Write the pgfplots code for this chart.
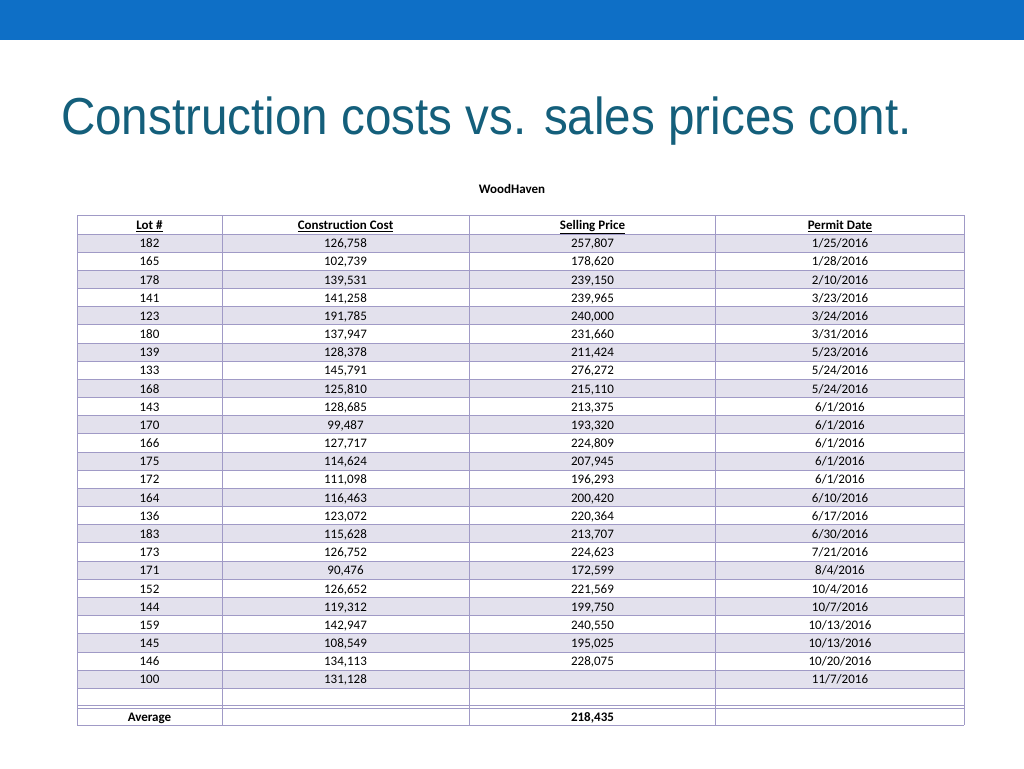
\documentclass[border=0pt]{standalone}
\usepackage{pgfplots}
\pgfplotsset{compat=1.18}
\usepackage{pgfplotstable}
\usepackage{fontspec}
\setmainfont{Carlito}[Ligatures=NoCommon]
\newfontfamily\titlefont{Liberation Sans}
\definecolor{topblue}{HTML}{0E6FC6}
\definecolor{titleteal}{HTML}{145F7B}
\definecolor{stripe}{HTML}{E3E1ED}
\definecolor{gridc}{HTML}{A09AC6}

\pgfplotstableread{
lot cost price date
182 126,758 257,807 1/25/2016
165 102,739 178,620 1/28/2016
178 139,531 239,150 2/10/2016
141 141,258 239,965 3/23/2016
123 191,785 240,000 3/24/2016
180 137,947 231,660 3/31/2016
139 128,378 211,424 5/23/2016
133 145,791 276,272 5/24/2016
168 125,810 215,110 5/24/2016
143 128,685 213,375 6/1/2016
170 99,487 193,320 6/1/2016
166 127,717 224,809 6/1/2016
175 114,624 207,945 6/1/2016
172 111,098 196,293 6/1/2016
164 116,463 200,420 6/10/2016
136 123,072 220,364 6/17/2016
183 115,628 213,707 6/30/2016
173 126,752 224,623 7/21/2016
171 90,476 172,599 8/4/2016
152 126,652 221,569 10/4/2016
144 119,312 199,750 10/7/2016
159 142,947 240,550 10/13/2016
145 108,549 195,025 10/13/2016
146 134,113 228,075 10/20/2016
100 131,128 {} 11/7/2016
}\woodhaven

\newcommand{\cellfont}{\fontsize{13}{15}\selectfont}

\begin{document}
\begin{tikzpicture}
% background decoration in pixel units (y downwards)
\begin{scope}[x=1pt, y=-1pt, yshift=768pt]
  \fill[white] (0,0) rectangle (1024,768);
  \fill[topblue] (0,0) rectangle (1024,40.5);
  \foreach \i in {1,3,...,25} {
    \fill[stripe] (77,{234+18.17*(\i-1)}) rectangle (964,{234+18.17*\i});
  }
  \begin{scope}[draw=gridc, line width=0.8pt]
    \draw (77,215.5) -- (964,215.5);
    \draw (77,234) -- (964,234);
    \foreach \k in {1,...,25} {
      \draw (77,{234+18.17*\k}) -- (964,{234+18.17*\k});
    }
    \draw (77,705.3) -- (964,705.3);
    \draw (77,708.3) -- (964,708.3);
    \draw (77,725.3) -- (964,725.3);
    \foreach \xx in {77,222.3,469,715.7,964} {
      \draw (\xx,215.5) -- (\xx,725.3);
    }
  \end{scope}
\end{scope}

\begin{axis}[
  at={(0,0)}, anchor=south west,
  width=1024pt, height=768pt, scale only axis,
  xmin=0, xmax=1024, ymin=0, ymax=768, y dir=reverse,
  axis lines=none, clip=false,
  point meta=explicit symbolic,
  nodes near coords,
  nodes near coords style={font=\cellfont, anchor=base, inner sep=0pt, text=black},
]
\addplot[draw=none, mark=none] table[x expr=149.5, y expr={229.6+18.17*(\coordindex+1)}, meta=lot]{\woodhaven};
\addplot[draw=none, mark=none] table[x expr=345.5, y expr={229.6+18.17*(\coordindex+1)}, meta=cost]{\woodhaven};
\addplot[draw=none, mark=none] table[x expr=592.5, y expr={229.6+18.17*(\coordindex+1)}, meta=price]{\woodhaven};
\addplot[draw=none, mark=none] table[x expr=840, y expr={229.6+18.17*(\coordindex+1)}, meta=date]{\woodhaven};

% title and captions
\node[anchor=base west, inner sep=0pt, xscale=0.915, text=titleteal,
      font=\titlefont\fontsize{52}{60}\selectfont] at (axis cs:61,134.5)
      {Construction costs vs. sales prices cont.};
\node[anchor=base, inner sep=0pt, font=\cellfont\bfseries] at (axis cs:512,193) {WoodHaven};

% header row
\node[anchor=base, inner sep=0pt, font=\cellfont\bfseries] at (axis cs:149.5,229.8) {\underline{Lot \#}};
\node[anchor=base, inner sep=0pt, font=\cellfont\bfseries] at (axis cs:345.5,229.8) {\underline{Construction Cost}};
\node[anchor=base, inner sep=0pt, font=\cellfont\bfseries] at (axis cs:592.5,229.8) {\underline{Selling Price}};
\node[anchor=base, inner sep=0pt, font=\cellfont\bfseries] at (axis cs:840,229.8) {\underline{Permit Date}};

% average row
\node[anchor=base, inner sep=0pt, font=\cellfont\bfseries] at (axis cs:149.5,721.5) {Average};
\node[anchor=base, inner sep=0pt, font=\cellfont\bfseries] at (axis cs:592.5,721.5) {218,435};
\end{axis}
\end{tikzpicture}
\end{document}
